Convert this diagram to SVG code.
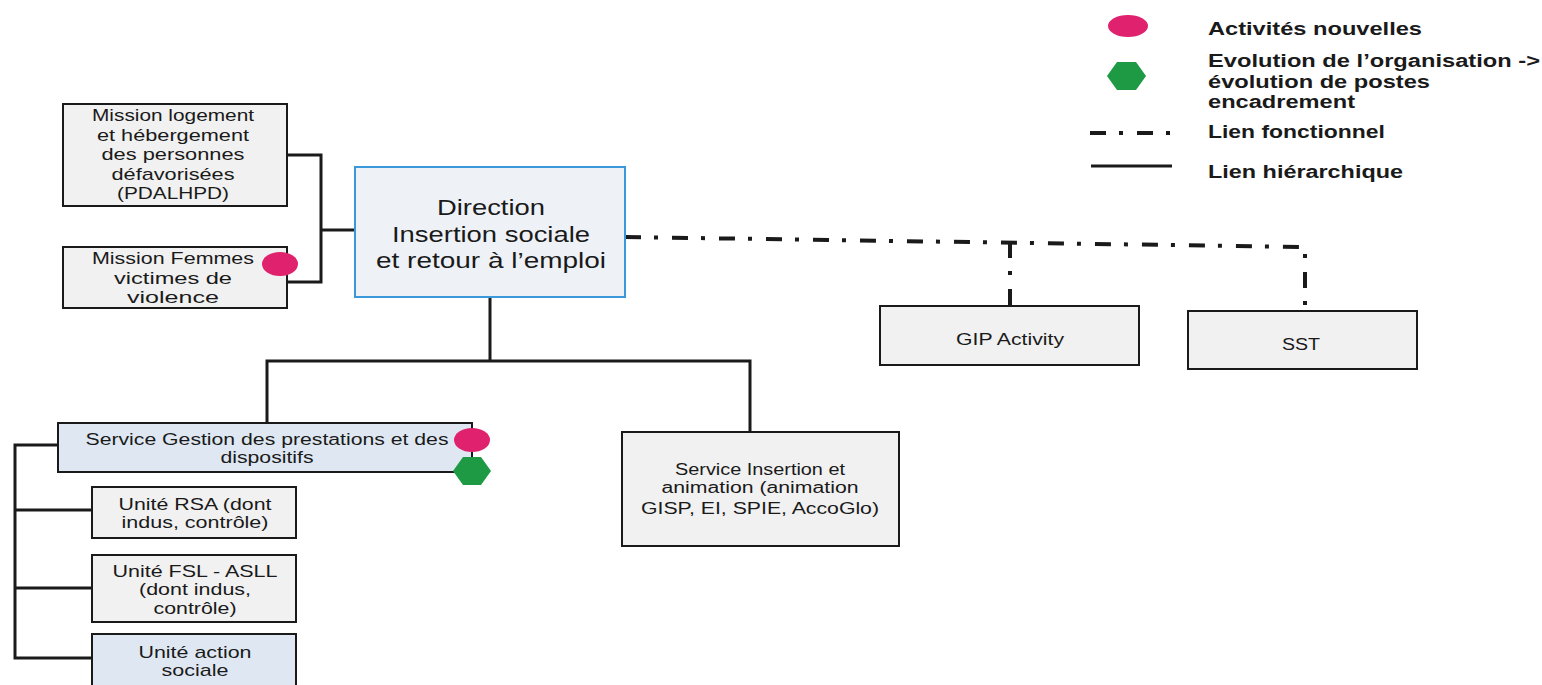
<svg xmlns="http://www.w3.org/2000/svg" width="1542" height="685" viewBox="0 0 1542 685">
  <style>
    .box { fill: #f1f1f1; stroke: #1a1a1a; stroke-width: 2; }
    .boxb { fill: #dfe8f2; stroke: #1a1a1a; stroke-width: 2; }
    .dir { fill: #eef2f7; stroke: #3a9ad9; stroke-width: 2; }
    .t { font-family: "Liberation Sans", Arial, sans-serif; fill: #1a1a1a; text-anchor: middle; }
    .lg { font-family: "Liberation Sans", Arial, sans-serif; fill: #1a1a1a; font-weight: bold; font-size: 18px; }
    .h { fill: none; stroke: #1a1a1a; stroke-width: 3; }
    .f { fill: none; stroke: #1a1a1a; stroke-width: 4; stroke-dasharray: 16 13 4 14; }
    .new { fill: #e0226e; }
    .evo { fill: #1e9a45; }
  </style>
  <defs>
    <ellipse id="dot-new" class="new" cx="0" cy="0" rx="18" ry="12"/>
    <polygon id="hex-evo" class="evo" points="-19,0 -9,-14 9,-14 19,0 9,14 -9,14"/>
  </defs>
  <rect width="1542" height="685" fill="#ffffff"/>

  <!-- connectors -->
  <g id="connectors">
    <!-- missions to direction -->
    <path class="h" d="M287,155 H321 V282 H287 M321,230 H355"/>
    <!-- direction to services -->
    <path class="h" d="M490,297 V361 M267,423 V361 H750 V432"/>
    <!-- service gestion to units -->
    <path class="h" d="M58,445 H15 V658 H92 M15,510 H92 M15,588 H92"/>
    <!-- functional links -->
    <path class="f" d="M625,237 L1305,247 V311"/>
    <path class="f" d="M1010,242 V306"/>
  </g>

  <g id="n-logement">
    <rect class="box" x="63" y="104" width="224" height="102"/>
    <text class="t" font-size="17" x="173" y="121" textLength="162" lengthAdjust="spacingAndGlyphs">Mission logement</text>
    <text class="t" font-size="17" x="173" y="141" textLength="152" lengthAdjust="spacingAndGlyphs">et hébergement</text>
    <text class="t" font-size="17" x="173" y="160" textLength="143" lengthAdjust="spacingAndGlyphs">des personnes</text>
    <text class="t" font-size="17" x="173" y="180" textLength="123" lengthAdjust="spacingAndGlyphs">défavorisées</text>
    <text class="t" font-size="17" x="173" y="199" textLength="112" lengthAdjust="spacingAndGlyphs">(PDALHPD)</text>
  </g>

  <g id="n-femmes">
    <rect class="box" x="63" y="247" width="224" height="61"/>
    <text class="t" font-size="17" x="173" y="264" textLength="162" lengthAdjust="spacingAndGlyphs">Mission Femmes</text>
    <text class="t" font-size="17" x="173" y="284" textLength="118" lengthAdjust="spacingAndGlyphs">victimes de</text>
    <text class="t" font-size="17" x="173" y="303" textLength="92" lengthAdjust="spacingAndGlyphs">violence</text>
    <use href="#dot-new" x="280" y="264"/>
  </g>

  <g id="n-direction">
    <rect class="dir" x="355" y="167" width="270" height="130"/>
    <text class="t" font-size="22" x="491" y="215" textLength="108" lengthAdjust="spacingAndGlyphs">Direction</text>
    <text class="t" font-size="22" x="491" y="242" textLength="198" lengthAdjust="spacingAndGlyphs">Insertion sociale</text>
    <text class="t" font-size="22" x="491" y="268" textLength="230" lengthAdjust="spacingAndGlyphs">et retour à l’emploi</text>
  </g>

  <g id="n-gip">
    <rect class="box" x="880" y="306" width="259" height="59"/>
    <text class="t" font-size="16" x="1010" y="345" textLength="108" lengthAdjust="spacingAndGlyphs">GIP Activity</text>
  </g>

  <g id="n-sst">
    <rect class="box" x="1188" y="311" width="229" height="58"/>
    <text class="t" font-size="16" x="1301" y="350" textLength="38" lengthAdjust="spacingAndGlyphs">SST</text>
  </g>

  <g id="n-gestion">
    <rect class="boxb" x="58" y="423" width="414" height="49"/>
    <text class="t" font-size="16" x="267" y="445" textLength="363" lengthAdjust="spacingAndGlyphs">Service Gestion des prestations et des</text>
    <text class="t" font-size="16" x="267" y="463" textLength="93" lengthAdjust="spacingAndGlyphs">dispositifs</text>
    <use href="#dot-new" x="472" y="440"/>
    <use href="#hex-evo" x="472" y="471"/>
  </g>

  <g id="n-insertion">
    <rect class="box" x="622" y="432" width="277" height="114"/>
    <text class="t" font-size="16" x="760" y="475" textLength="170" lengthAdjust="spacingAndGlyphs">Service Insertion et</text>
    <text class="t" font-size="16" x="760" y="493" textLength="197" lengthAdjust="spacingAndGlyphs">animation (animation</text>
    <text class="t" font-size="16" x="760" y="514" textLength="238" lengthAdjust="spacingAndGlyphs">GISP, EI, SPIE, AccoGlo)</text>
  </g>

  <g id="n-rsa">
    <rect class="box" x="92" y="487" width="204" height="51"/>
    <text class="t" font-size="17" x="195" y="510" textLength="153" lengthAdjust="spacingAndGlyphs">Unité RSA (dont</text>
    <text class="t" font-size="17" x="195" y="528" textLength="147" lengthAdjust="spacingAndGlyphs">indus, contrôle)</text>
  </g>

  <g id="n-fsl">
    <rect class="box" x="92" y="555" width="204" height="67"/>
    <text class="t" font-size="17" x="195" y="577" textLength="165" lengthAdjust="spacingAndGlyphs">Unité FSL - ASLL</text>
    <text class="t" font-size="17" x="195" y="595" textLength="112" lengthAdjust="spacingAndGlyphs">(dont indus,</text>
    <text class="t" font-size="17" x="195" y="614" textLength="83" lengthAdjust="spacingAndGlyphs">contrôle)</text>
  </g>

  <g id="n-action">
    <rect class="boxb" x="92" y="634" width="204" height="60"/>
    <text class="t" font-size="17" x="195" y="658" textLength="113" lengthAdjust="spacingAndGlyphs">Unité action</text>
    <text class="t" font-size="17" x="195" y="676" textLength="67" lengthAdjust="spacingAndGlyphs">sociale</text>
  </g>

  <!-- legend -->
  <g id="legend">
    <ellipse class="new" cx="1128" cy="26" rx="20" ry="11"/>
    <polygon class="evo" points="1107,76 1117,62 1136,62 1146,76 1136,90 1117,90"/>
    <path class="f" d="M1090,133 H1170" stroke-dasharray="14 12 4 12"/>
    <path class="h" d="M1091,166 H1172"/>
    <text class="lg" x="1208" y="35" textLength="214" lengthAdjust="spacingAndGlyphs">Activités nouvelles</text>
    <text class="lg" x="1208" y="67" textLength="332" lengthAdjust="spacingAndGlyphs">Evolution de l’organisation -&gt;</text>
    <text class="lg" x="1208" y="88" textLength="222" lengthAdjust="spacingAndGlyphs">évolution de postes</text>
    <text class="lg" x="1208" y="108" textLength="147" lengthAdjust="spacingAndGlyphs">encadrement</text>
    <text class="lg" x="1208" y="138" textLength="177" lengthAdjust="spacingAndGlyphs">Lien fonctionnel</text>
    <text class="lg" x="1208" y="178" textLength="195" lengthAdjust="spacingAndGlyphs">Lien hiérarchique</text>
  </g>
</svg>
